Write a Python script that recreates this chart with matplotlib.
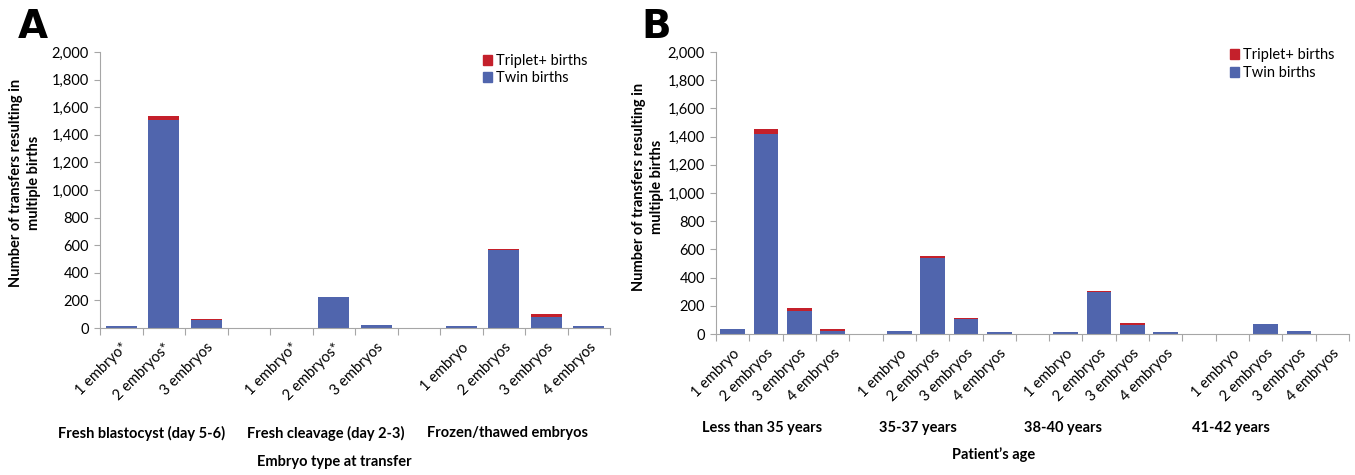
import matplotlib
matplotlib.use('Agg')
import numpy as np
import matplotlib.pyplot as plt
from matplotlib.patches import Patch

plt.rcParams['font.family'] = ['Lato', 'DejaVu Sans']

# panel A data (empty slots separate the groups)
a_labels = ['1 embryo*', '2 embryos*', '3 embryos', '',
            '1 embryo*', '2 embryos*', '3 embryos', '',
            '1 embryo', '2 embryos', '3 embryos', '4 embryos']
a_twin = [15, 1505, 55, 0, 0, 225, 24, 0, 12, 562, 82, 12]
a_trip = [1, 28, 10, 0, 0, 2, 1, 0, 1, 13, 17, 1]
a_groups = ['Fresh blastocyst (day 5-6)', 'Fresh cleavage (day 2-3)', 'Frozen/thawed embryos']

# panel B data
b_labels = ['1 embryo', '2 embryos', '3 embryos', '4 embryos', '',
            '1 embryo', '2 embryos', '3 embryos', '4 embryos', '',
            '1 embryo', '2 embryos', '3 embryos', '4 embryos', '',
            '1 embryo', '2 embryos', '3 embryos', '4 embryos']
b_twin = [35, 1420, 165, 22, 0, 18, 540, 105, 14, 0, 16, 300, 65, 14, 0, 0, 70, 18, 2]
b_trip = [2, 35, 19, 10, 0, 1, 10, 10, 1, 0, 1, 3, 12, 1, 0, 0, 2, 1, 0]
b_groups = ['Less than 35 years', '35-37 years', '38-40 years', '41-42 years']

blue = '#5065ad'
red = '#c4202b'
grey = '#a6a6a6'

W, H = 1355, 475
fig = plt.figure(figsize=(W / 100, H / 100), dpi=100)


def px(x, y):
    return x / W, 1 - y / H


def panel(box, labels, twin, trip, leg_xy, leg_space):
    l, b = px(box[0], box[3])
    r, t = px(box[2], box[1])
    ax = fig.add_axes([l, b, r - l, t - b])
    x = np.arange(len(labels))
    ax.bar(x, twin, 0.74, color=blue)
    ax.bar(x, trip, 0.74, bottom=twin, color=red)
    ax.set_xlim(-0.5, len(labels) - 0.5)
    ax.set_ylim(0, 2000)
    ax.set_yticks(range(0, 2001, 200))
    ax.set_yticklabels([f'{v:,}' for v in range(0, 2001, 200)], fontsize=10.5)
    ax.set_xticks(np.arange(-0.5, len(labels), 1))
    ax.set_xticklabels([])
    ax.set_xticks(x, minor=True)
    ax.set_xticklabels(labels, minor=True, rotation=45, ha='right',
                       rotation_mode='anchor', fontsize=10.5)
    ax.tick_params(axis='x', which='minor', length=0, pad=9)
    ax.tick_params(axis='x', which='major', length=5, color=grey)
    ax.tick_params(axis='y', length=4, color=grey, pad=4)
    for s in ['top', 'right']:
        ax.spines[s].set_visible(False)
    for s in ['left', 'bottom']:
        ax.spines[s].set_color(grey)
    handles = [Patch(color=red), Patch(color=blue)]
    ax.legend(handles, ['Triplet+ births', 'Twin births'], loc='upper left',
              bbox_to_anchor=px(*leg_xy), bbox_transform=fig.transFigure,
              frameon=False, fontsize=10.5, borderpad=0, borderaxespad=0,
              handlelength=0.65, handleheight=0.65, handletextpad=0.25,
              labelspacing=leg_space)
    return ax


axA = panel((100, 52, 610, 328), a_labels, a_twin, a_trip, (483, 54), 0.2)
axB = panel((716, 52, 1349, 334), b_labels, b_twin, b_trip, (1230, 48), 0.3)

ylab = 'Number of transfers resulting in\nmultiple births'
fig.text(*px(25, 183), ylab, rotation=90, ha='center', va='center',
         fontsize=10.5, fontweight='bold', linespacing=1.3)
fig.text(*px(648, 187), ylab, rotation=90, ha='center', va='center',
         fontsize=10.5, fontweight='bold', linespacing=1.3)

# group labels and axis titles
for name, xp in zip(a_groups, [142, 326, 508]):
    fig.text(*px(xp, 433), name, ha='center', va='center', fontsize=10.5, fontweight='bold')
fig.text(*px(334, 462), 'Embryo type at transfer', ha='center', va='center',
         fontsize=10.5, fontweight='bold')
for name, xp in zip(b_groups, [762, 918, 1063, 1231]):
    fig.text(*px(xp, 428), name, ha='center', va='center', fontsize=10.5, fontweight='bold')
fig.text(*px(994, 455), 'Patient\u2019s age', ha='center', va='center',
         fontsize=10.5, fontweight='bold')

# panel letters
fig.text(*px(18, 8), 'A', ha='left', va='top', fontsize=28, fontweight='bold',
         family=['DejaVu Sans'])
fig.text(*px(641, 8), 'B', ha='left', va='top', fontsize=28, fontweight='bold',
         family=['DejaVu Sans'])

fig.savefig('out.png', dpi=100)
